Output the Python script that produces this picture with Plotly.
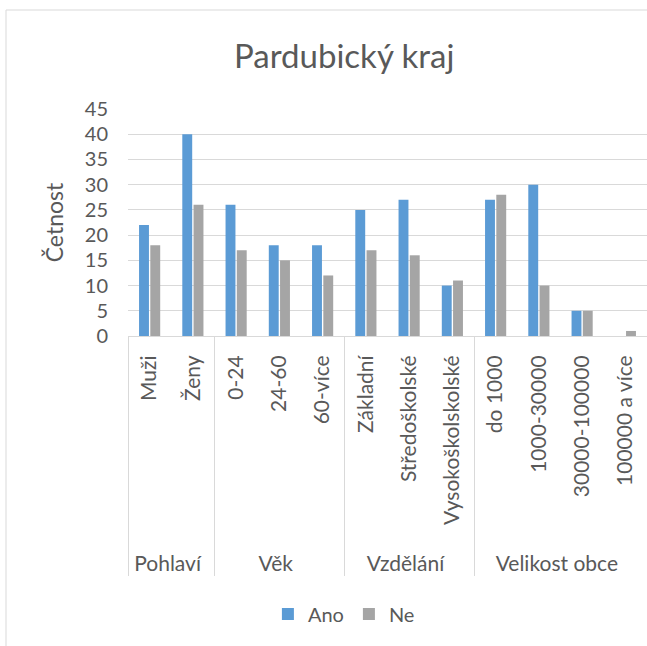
import plotly.graph_objects as go

# category groups and inner categories
groups = ["Pohlaví", "Pohlaví",
          "Věk", "Věk", "Věk",
          "Vzdělání", "Vzdělání", "Vzdělání",
          "Velikost obce", "Velikost obce", "Velikost obce", "Velikost obce"]
categories = ["Muži", "Ženy",
              "0-24", "24-60", "60-více",
              "Základní", "Středoškolské", "Vysokoškolskolské",
              "do 1000", "1000-30000", "30000-100000", "100000 a více"]

ano = [22, 40, 26, 18, 18, 25, 27, 10, 27, 30, 5, 0]
ne = [18, 26, 17, 15, 12, 17, 16, 11, 28, 10, 5, 1]

FONT = "Lato"
TEXT = "#595959"
GRID = "#D9D9D9"

# rotated labels are anchored at the axis; a few leading no-break spaces
# lengthen the label block so the group row sits lower, like in Excel
labels = ["\u00a0" * 3 + c for c in categories]

fig = go.Figure()
fig.add_trace(go.Bar(x=[groups, labels], y=ano, name="Ano",
                     marker=dict(color="#5B9BD5", line=dict(width=0))))
fig.add_trace(go.Bar(x=[groups, labels], y=ne, name="Ne",
                     marker=dict(color="#A5A5A5", line=dict(width=0))))

fig.update_layout(
    width=647, height=646,
    margin=dict(l=128, r=0, t=109, b=310, autoexpand=False),
    paper_bgcolor="white", plot_bgcolor="white",
    font=dict(family=FONT, color=TEXT, size=21),
    title=dict(text="Pardubický kraj", x=0.532, xanchor="center",
               y=0.913, yanchor="middle",
               font=dict(family=FONT, size=33, color=TEXT)),
    barmode="group", bargap=0.48, bargroupgap=0.12,
    legend=dict(orientation="h", x=0.416, xanchor="center",
                y=-1.225, yanchor="middle",
                font=dict(size=20, color=TEXT), itemwidth=30),
    showlegend=True,
)

fig.update_xaxes(
    type="multicategory",
    tickangle=-90,
    tickfont=dict(size=21, color=TEXT),
    ticklabelstandoff=10,
    showline=True, linecolor=GRID, linewidth=1,
    showdividers=True, dividercolor=GRID, dividerwidth=1,
    showgrid=False, automargin=False,
)
fig.update_yaxes(
    range=[0, 45], dtick=5,
    showgrid=True, gridcolor=GRID, gridwidth=1,
    zeroline=False, showline=False,
    tickfont=dict(size=20, color=TEXT),
    ticklabelstandoff=19,
    title=dict(text="Četnost", font=dict(size=23, color=TEXT), standoff=14),
    automargin=False,
)

# outer chart frame
fig.add_shape(type="rect", xref="paper", yref="paper",
              x0=-122 / 519, x1=1.2, y0=-1.5, y1=(336 - 10) / 227,
              line=dict(color=GRID, width=1), layer="below")

# page body has a default 8px margin; drop it so the figure sits at 0,0
fig.write_html("out.html", config={"displayModeBar": False},
               post_script="document.body.style.margin='0';")
